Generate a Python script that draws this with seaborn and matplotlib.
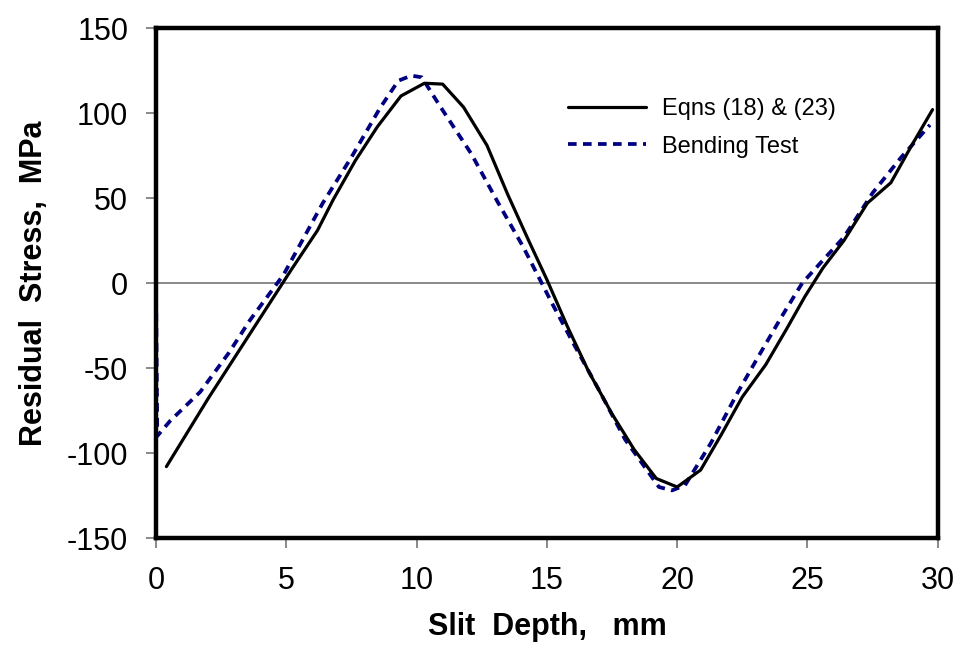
import matplotlib
matplotlib.use("Agg")
import matplotlib.pyplot as plt
import seaborn as sns
import pandas as pd

# Eqns (18) & (23)
eqns_x = [0.4, 1.2, 2.0, 2.8, 3.6, 4.4, 5.2, 6.2, 6.8, 7.65, 8.5, 9.4, 10.3, 11.0, 11.8,
          12.7, 13.5, 14.3, 15.0, 15.8, 16.6, 17.5, 18.35, 19.2, 20.0, 20.9, 21.7, 22.5,
          23.4, 24.2, 24.9, 25.6, 26.4, 27.3, 28.2, 29.0, 29.8]
eqns_y = [-108, -88, -68, -49, -30, -11, 8, 31, 49, 72, 92, 110, 117.5, 117, 103.5,
          81, 52, 25, 2, -26, -52, -77, -98, -115, -120, -110, -89, -67,
          -48, -27, -8, 9, 25, 47, 59, 81, 102]

# Bending Test
bend_x = [0, 0.05, 0.55, 1.7, 2.8, 3.6, 4.9, 6.4, 7.5, 8.6, 9.3, 9.8, 10.2, 10.9, 12.1,
          13.1, 14.1, 15.2, 16.0, 17.0, 18.0, 19.3, 19.8, 20.3, 21.3, 22.3, 23.2, 24.0,
          24.8, 26.4, 27.5, 28.6, 29.7]
bend_y = [0, -90, -81, -64, -41, -22, 5, 47, 74, 103, 119, 122, 121, 104, 76,
          48, 21, -12, -35, -63, -92, -120, -122, -119, -94, -65, -41, -20,
          0, 27, 53, 74, 93]

df_eq = pd.DataFrame({'x': eqns_x, 'y': eqns_y})
df_bd = pd.DataFrame({'x': bend_x, 'y': bend_y})

sns.set_style("white")
plt.rcParams['font.family'] = ['Liberation Sans', 'DejaVu Sans']
plt.rcParams['axes.unicode_minus'] = False
plt.rcParams['text.color'] = 'black'
plt.rcParams['axes.labelcolor'] = 'black'

fig = plt.figure(figsize=(9.64, 6.67), dpi=100)
ax = fig.add_axes([0.1618, 0.1934, 0.811, 0.7646])

ax.axhline(0, color='#808080', lw=1.3, zorder=1)
sns.lineplot(data=df_eq, x='x', y='y', sort=False, ax=ax, color='black', lw=2.3,
             label='Eqns (18) & (23)', zorder=3)
sns.lineplot(data=df_bd, x='x', y='y', sort=False, ax=ax, color='#000080', lw=2.7,
             linestyle=(0, (2.3, 1.7)), label='Bending Test', zorder=2)

ax.set_xlim(0, 30)
ax.set_ylim(-150, 150)
ax.set_xticks(range(0, 31, 5))
ax.set_yticks(range(-150, 151, 50))
ax.tick_params(axis='both', labelsize=22, labelcolor='black', color='#808080',
               length=7, width=1.3, direction='out', pad=13)
ax.tick_params(bottom=True, left=True)

for s in ax.spines.values():
    s.set_color('black')
    s.set_linewidth(3.2)

ax.set_xlabel('Slit  Depth,   mm', fontsize=22, fontweight='bold', labelpad=12)
ax.set_ylabel('Residual  Stress,  MPa', fontsize=22, fontweight='bold', labelpad=13)

ax.legend(loc='upper left', bbox_to_anchor=(0.515, 0.881), borderaxespad=0,
          frameon=False, fontsize=17, handlelength=3.3, handletextpad=0.7,
          labelspacing=0.66)

fig.savefig('out.png', dpi=100)
